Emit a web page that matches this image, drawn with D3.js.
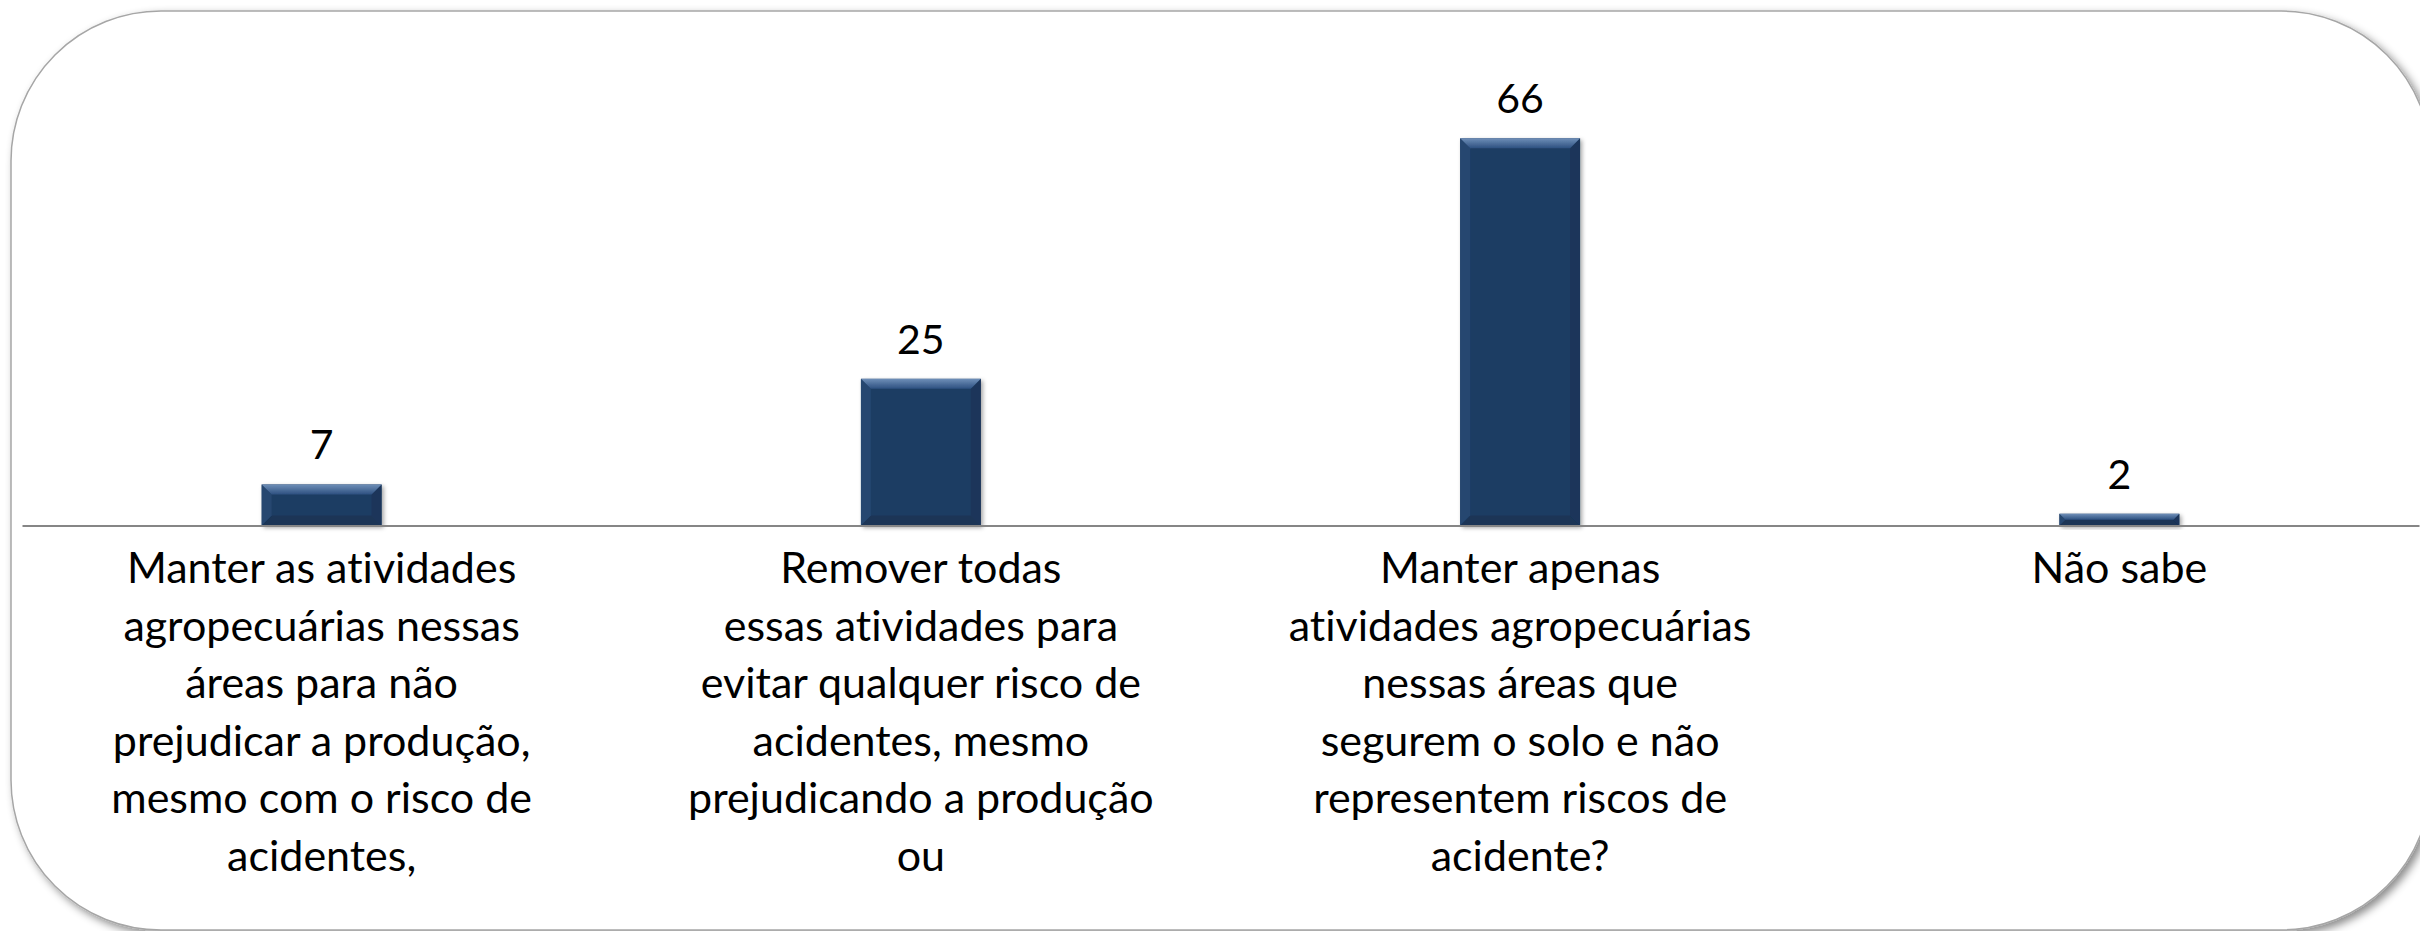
<!DOCTYPE html>
<html>
<head>
<meta charset="utf-8">
<script src="https://cdn.jsdelivr.net/npm/d3@7"></script>
<style>
  html, body { margin: 0; padding: 0; background: #fff; overflow: hidden; }
  svg { display: block; }
  .label { font-family: Lato, "Open Sans", sans-serif; fill: #000; font-variant-ligatures: none; }
</style>
</head>
<body>
<svg id="chart"></svg>
<script>
const width = 2420;
const height = 931;

// Data
const categories = ["c1", "c2", "c3", "c4"];
const values = [7, 25, 66, 2];
const labelLines = [
  ["Manter as atividades", "agropecuárias nessas", "áreas para não", "prejudicar a produção,", "mesmo com o risco de", "acidentes,"],
  ["Remover todas", "essas atividades para", "evitar qualquer risco de", "acidentes, mesmo", "prejudicando a produção", "ou"],
  ["Manter apenas", "atividades agropecuárias", "nessas áreas que", "segurem o solo e não", "representem riscos de", "acidente?"],
  ["Não sabe"]
];

var svg = d3.select("#chart")
  .attr("width", width)
  .attr("height", height);

const defs = svg.append("defs");

// shadow for the frame
const frameShadow = defs.append("filter")
  .attr("id", "frameShadow")
  .attr("x", "-5%").attr("y", "-5%")
  .attr("width", "115%").attr("height", "115%");
frameShadow.append("feDropShadow")
  .attr("dx", 4).attr("dy", 4)
  .attr("stdDeviation", 4)
  .attr("flood-color", "#000")
  .attr("flood-opacity", 0.45);

// shadow for bars
const barShadow = defs.append("filter")
  .attr("id", "barShadow")
  .attr("x", "-20%").attr("y", "-20%")
  .attr("width", "150%").attr("height", "150%");
barShadow.append("feDropShadow")
  .attr("dx", 2).attr("dy", 2)
  .attr("stdDeviation", 2)
  .attr("flood-color", "#000")
  .attr("flood-opacity", 0.35);

// top bevel gradient
const topGrad = defs.append("linearGradient")
  .attr("id", "topGrad")
  .attr("x1", 0).attr("y1", 0).attr("x2", 0).attr("y2", 1);
topGrad.append("stop").attr("offset", "0%").attr("stop-color", "#6f8fb8");
topGrad.append("stop").attr("offset", "100%").attr("stop-color", "#2d5080");

// rounded frame (runs off the right edge of the picture)
svg.append("rect")
  .attr("x", 11)
  .attr("y", 11)
  .attr("width", 2420)
  .attr("height", 919)
  .attr("rx", 150)
  .attr("ry", 150)
  .attr("fill", "#fff")
  .attr("stroke", "#a6a6a6")
  .attr("stroke-width", 1.5)
  .attr("filter", "url(#frameShadow)");

// scales
const x = d3.scaleBand()
  .domain(categories)
  .range([22, 2419])
  .paddingInner(0.8)
  .paddingOuter(0.4);

const y = d3.scaleLinear()
  .domain([0, 70])
  .range([525.5, 114.8]);

// bars
const bars = svg.append("g")
  .attr("class", "bars")
  .selectAll("g")
  .data(values)
  .enter().append("g")
  .attr("filter", "url(#barShadow)");

bars.each(function (d, i) {
  const g = d3.select(this);
  const x0 = x(categories[i]);
  const w = x.bandwidth();
  const y0 = y(d);
  const h = y(0) - y(d);
  const b = Math.min(10, h / 2, w / 2);

  g.append("rect")
    .attr("x", x0).attr("y", y0)
    .attr("width", w).attr("height", h)
    .attr("fill", "#1f3d64");

  // bottom bevel
  g.append("polygon")
    .attr("points", [[x0, y0 + h], [x0 + w, y0 + h], [x0 + w - b, y0 + h - b], [x0 + b, y0 + h - b]].join(" "))
    .attr("fill", "#1a3456");
  // left bevel
  g.append("polygon")
    .attr("points", [[x0, y0], [x0 + b, y0 + b], [x0 + b, y0 + h - b], [x0, y0 + h]].join(" "))
    .attr("fill", "#25466f");
  // right bevel
  g.append("polygon")
    .attr("points", [[x0 + w, y0], [x0 + w - b, y0 + b], [x0 + w - b, y0 + h - b], [x0 + w, y0 + h]].join(" "))
    .attr("fill", "#1b365a");
  // top bevel
  g.append("polygon")
    .attr("points", [[x0, y0], [x0 + w, y0], [x0 + w - b, y0 + b], [x0 + b, y0 + b]].join(" "))
    .attr("fill", "url(#topGrad)");
});

// value labels
svg.append("g")
  .selectAll("text")
  .data(values)
  .enter().append("text")
  .attr("class", "label")
  .attr("x", (d, i) => x(categories[i]) + x.bandwidth() / 2)
  .attr("y", d => y(d) - 25)
  .attr("text-anchor", "middle")
  .attr("font-size", 41)
  .text(d => d);

// axis
const axis = svg.append("g")
  .attr("transform", "translate(0," + y(0) + ")")
  .call(d3.axisBottom(x).tickSize(0).tickSizeOuter(0).tickFormat(""));

axis.select(".domain")
  .attr("stroke", "#868686")
  .attr("stroke-width", 2);

// category labels
const catLabels = svg.append("g")
  .selectAll("text")
  .data(labelLines)
  .enter().append("text")
  .attr("class", "label")
  .attr("text-anchor", "middle")
  .attr("font-size", 43);

catLabels.each(function (lines, i) {
  const cx = x(categories[i]) + x.bandwidth() / 2;
  d3.select(this).selectAll("tspan")
    .data(lines)
    .enter().append("tspan")
    .attr("x", cx)
    .attr("y", (l, j) => 583 + j * 57.6)
    .text(l => l);
});
</script>
</body>
</html>
